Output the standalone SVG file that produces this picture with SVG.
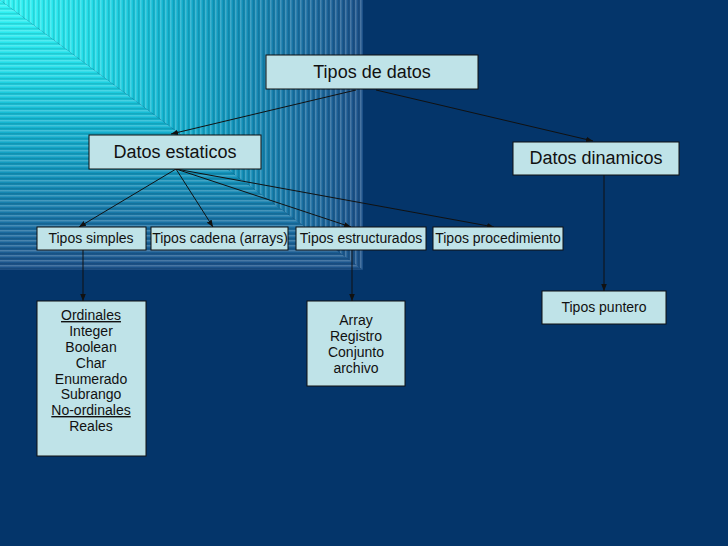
<svg xmlns="http://www.w3.org/2000/svg" width="728" height="546" viewBox="0 0 728 546">
<defs>
<style>
.n{fill:#bfe3e8;stroke:#111;stroke-width:1}
.t{font-family:"Liberation Sans",Arial,sans-serif;fill:#111;text-anchor:middle}
.b{font-size:18px}
.s{font-size:14px}
.c{stroke:#111;stroke-width:1;fill:none;marker-end:url(#ah)}
</style>
<marker id="ah" viewBox="0 0 10 10" refX="10" refY="5" markerWidth="7" markerHeight="7" markerUnits="userSpaceOnUse" orient="auto">
<path d="M0,1 L10,5 L0,9 z" fill="#111"/>
</marker>
<linearGradient id="gh" x1="0" y1="0" x2="363" y2="0" gradientUnits="userSpaceOnUse">
<stop offset="0" stop-color="#30f4f4"/>
<stop offset="0.25" stop-color="#22dce8"/>
<stop offset="0.45" stop-color="#14b6d2"/>
<stop offset="0.65" stop-color="#1292ba"/>
<stop offset="0.85" stop-color="#1a6ca0"/>
<stop offset="1" stop-color="#1c5088"/>
</linearGradient>
<linearGradient id="gv" x1="0" y1="0" x2="0" y2="270" gradientUnits="userSpaceOnUse">
<stop offset="0" stop-color="#30f4f4"/>
<stop offset="0.25" stop-color="#22dce8"/>
<stop offset="0.45" stop-color="#14b6d2"/>
<stop offset="0.65" stop-color="#1292ba"/>
<stop offset="0.85" stop-color="#1a6ca0"/>
<stop offset="1" stop-color="#1c5088"/>
</linearGradient>
<pattern id="pv" width="5" height="5" patternUnits="userSpaceOnUse">
<rect x="0" y="0" width="1.5" height="5" fill="#ffffff" fill-opacity="0.2"/>
<rect x="3" y="0" width="1.5" height="5" fill="#000000" fill-opacity="0.1"/>
</pattern>
<pattern id="ph" width="5" height="5" patternUnits="userSpaceOnUse">
<rect x="0" y="0" width="5" height="1.5" fill="#ffffff" fill-opacity="0.2"/>
<rect x="0" y="3" width="5" height="1.5" fill="#000000" fill-opacity="0.1"/>
</pattern>
</defs>
<rect width="728" height="546" fill="#04356a"/>
<g id="background-pattern">
<polygon points="0,0 363,0 363,270" fill="url(#gh)"/>
<polygon points="0,0 363,270 0,270" fill="url(#gv)"/>
<polygon points="0,0 363,0 363,270" fill="url(#pv)"/>
<polygon points="0,0 363,270 0,270" fill="url(#ph)"/>
</g>
<g id="connectors">
<line class="c" x1="356" y1="90" x2="171" y2="134"/>
<line class="c" x1="376" y1="90" x2="593" y2="141"/>
<line class="c" x1="176" y1="169" x2="79" y2="227"/>
<line class="c" x1="176" y1="169" x2="213" y2="227"/>
<line class="c" x1="176" y1="169" x2="351" y2="227"/>
<line class="c" x1="176" y1="169" x2="494" y2="227"/>
<line class="c" x1="83" y1="250" x2="83" y2="301"/>
<line class="c" x1="352" y1="250" x2="352" y2="301"/>
<line class="c" x1="604" y1="175" x2="604" y2="291"/>
</g>
<g id="tipos-de-datos">
<rect class="n" x="266" y="55" width="212" height="34"/>
<text class="t b" x="372" y="78">Tipos de datos</text>
</g>
<g id="datos-estaticos">
<rect class="n" x="89" y="135" width="172" height="34"/>
<text class="t b" x="175" y="158">Datos estaticos</text>
</g>
<g id="datos-dinamicos">
<rect class="n" x="513" y="142" width="166" height="33"/>
<text class="t b" x="596" y="164">Datos dinamicos</text>
</g>
<g id="tipos-simples">
<rect class="n" x="37" y="227" width="109" height="23"/>
<text class="t s" x="91" y="243">Tipos simples</text>
</g>
<g id="tipos-cadena">
<rect class="n" x="151" y="227" width="137" height="23"/>
<text class="t s" x="220" y="243">Tipos cadena (arrays)</text>
</g>
<g id="tipos-estructurados">
<rect class="n" x="296" y="227" width="130" height="23"/>
<text class="t s" x="361" y="243">Tipos estructurados</text>
</g>
<g id="tipos-procedimiento">
<rect class="n" x="433" y="227" width="130" height="23"/>
<text class="t s" x="498" y="243">Tipos procedimiento</text>
</g>
<g id="ordinales">
<rect class="n" x="37" y="301" width="109" height="155"/>
<text class="t s" x="91" y="320"><tspan text-decoration="underline">Ordinales</tspan></text>
<text class="t s" x="91" y="336">Integer</text>
<text class="t s" x="91" y="352">Boolean</text>
<text class="t s" x="91" y="368">Char</text>
<text class="t s" x="91" y="384">Enumerado</text>
<text class="t s" x="91" y="399">Subrango</text>
<text class="t s" x="91" y="415"><tspan text-decoration="underline">No-ordinales</tspan></text>
<text class="t s" x="91" y="431">Reales</text>
</g>
<g id="estructurados-lista">
<rect class="n" x="307" y="301" width="98" height="85"/>
<text class="t s" x="356" y="325">Array</text>
<text class="t s" x="356" y="341">Registro</text>
<text class="t s" x="356" y="357">Conjunto</text>
<text class="t s" x="356" y="373">archivo</text>
</g>
<g id="tipos-puntero">
<rect class="n" x="542" y="291" width="124" height="33"/>
<text class="t s" x="604" y="312">Tipos puntero</text>
</g>
</svg>
